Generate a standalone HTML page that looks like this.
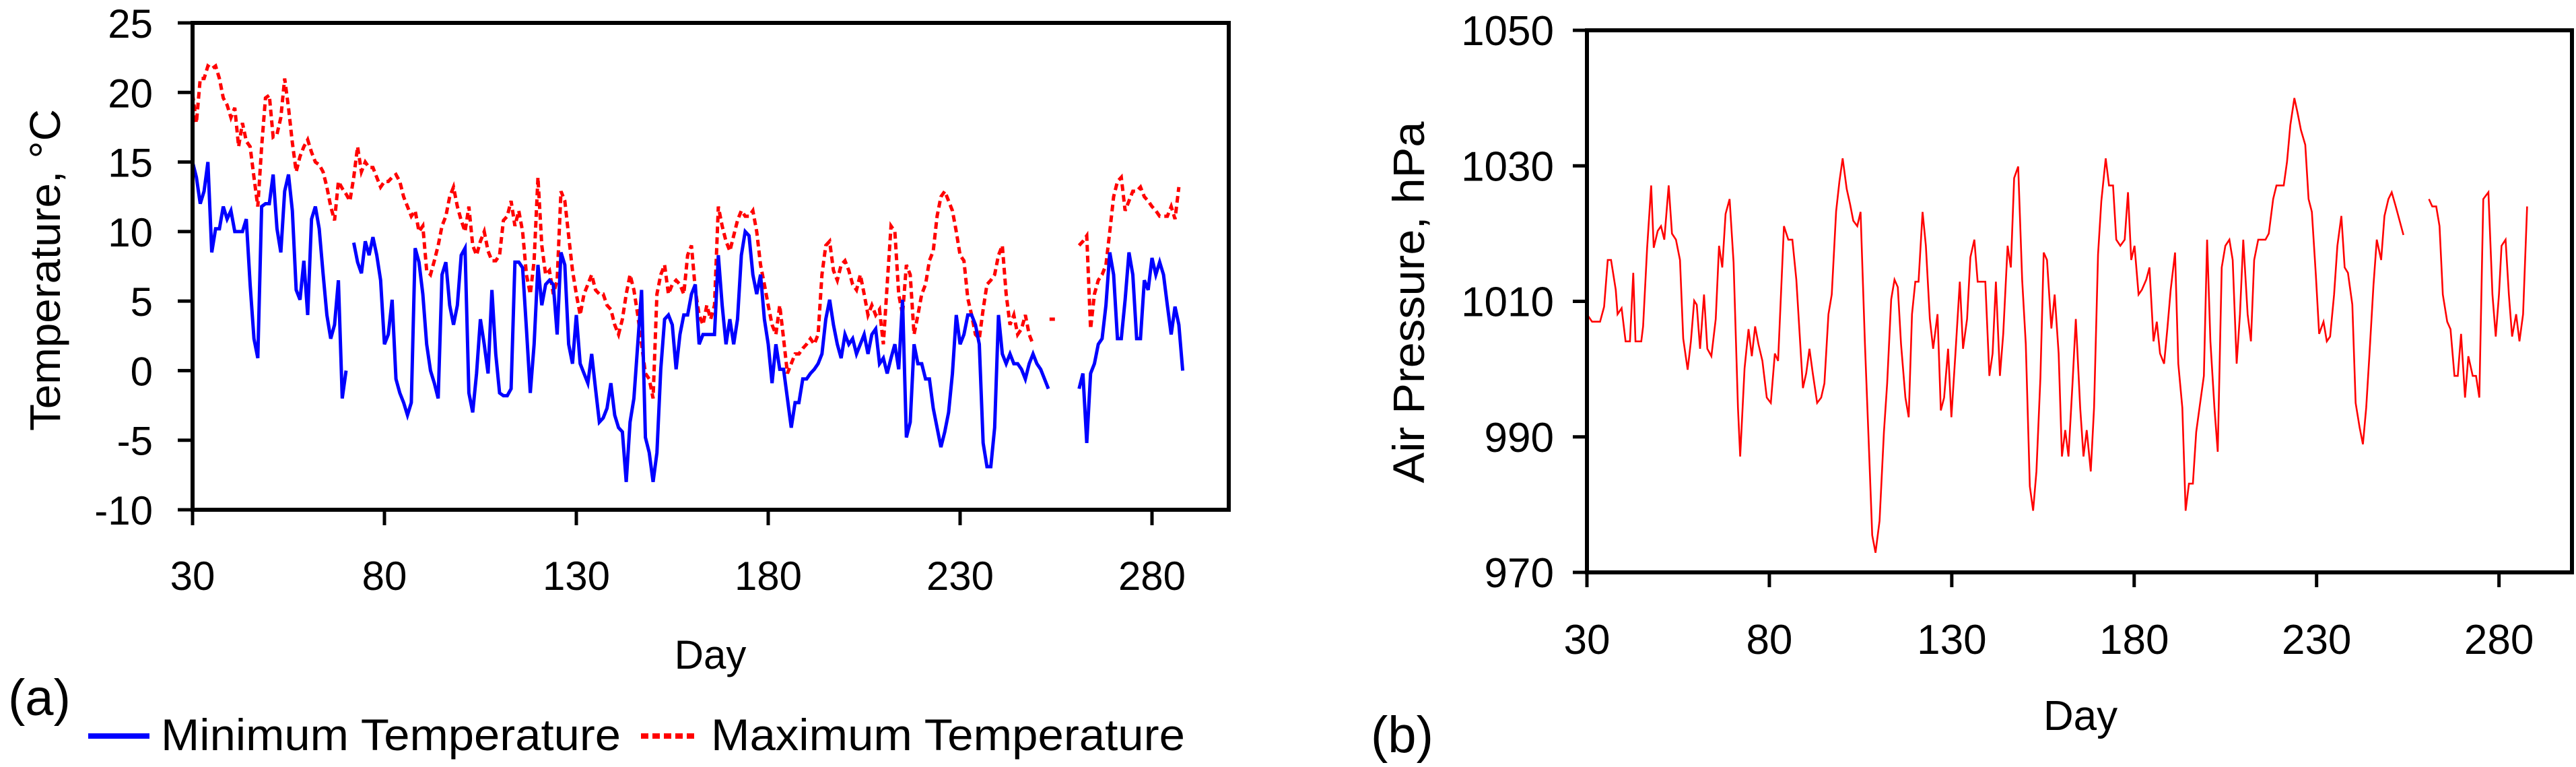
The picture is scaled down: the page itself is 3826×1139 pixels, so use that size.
<!DOCTYPE html>
<html><head><meta charset="utf-8">
<style>
html,body{margin:0;padding:0;background:#fff;}
svg{display:block;}
text{font-family:"Liberation Sans",Arial,sans-serif;fill:#000;}
</style></head>
<body>
<svg id="fig" width="3826" height="1139" viewBox="0 0 3826 1139" xmlns="http://www.w3.org/2000/svg">
<g id="chartA"></g>
<g id="chartB"></g>
</svg>
<script>
// ---------- Chart (a) data ----------
const tStartDay = 30;
const tXTicks = [30, 80, 130, 180, 230, 280];
const tYTicks = [25, 20, 15, 10, 5, 0, -5, -10];
const minTemp = [15,13.9,12,12.9,15,8.5,10.2,10.2,11.8,10.9,11.5,10,10,10,10.9,6.2,2.3,0.9,11.8,12,12,14.1,10.2,8.5,12.9,14.1,11.5,5.8,5.1,7.9,4,10.9,11.8,10.2,7,4,2.3,3.3,6.5,-2,0,
null,
9.2,7.8,7,9.3,8.3,9.6,8.3,6.5,1.9,2.6,5.1,-0.6,-1.6,-2.3,-3.2,-2.3,8.8,7.8,5.5,1.9,0,-0.9,-2,6.9,7.8,4.7,3.3,4.7,8.3,8.8,-1.6,-3,-0.2,3.7,1.9,-0.2,5.8,1.2,-1.6,-1.8,-1.8,-1.3,7.8,7.8,7.4,3,-1.6,1.9,7.6,4.7,6.2,6.5,6.2,2.6,8.5,7.6,1.9,0.5,4,0.5,-0.2,-0.9,1.2,-1.3,-3.7,-3.4,-2.7,-0.9,-3.2,-4.1,-4.4,-8,-3.7,-2,1.9,5.8,-4.8,-5.9,-8,-5.9,0.1,3.7,4,3.3,0.1,2.6,4,4,5.5,6.2,1.9,2.6,2.6,2.6,2.6,8.3,4.7,1.9,3.7,1.9,3.7,8.3,10,9.7,6.9,5.5,6.9,3.7,1.9,-0.9,1.9,0.1,0.1,-2,-4.1,-2.3,-2.3,-0.6,-0.6,-0.2,0.1,0.5,1.2,3.7,5.1,3.3,1.9,0.9,2.6,1.9,2.3,1.2,1.9,2.6,1.2,2.6,3,0.5,0.9,-0.2,0.9,1.9,0.1,5.1,-4.8,-3.7,1.9,0.5,0.5,-0.6,-0.6,-2.7,-4.1,-5.5,-4.4,-3,-0.2,4,1.9,2.6,4,4,3.3,1.9,-5.2,-6.9,-6.9,-4.1,4,1.2,0.5,1.2,0.5,0.5,0.1,-0.6,0.5,1.2,0.5,0.1,-0.6,-1.3,
null,null,null,null,null,null,null,
-1.3,-0.2,-5.2,-0.2,0.5,1.9,2.3,4.7,8.5,6.9,2.3,2.3,5.1,8.5,6.9,2.3,2.3,6.5,5.8,8.1,6.9,7.8,6.9,4.7,2.6,4.6,3.3,0];
const maxTemp = [19.9,17.8,21,21,21.9,21.7,21.9,21,19.6,19.1,18.2,18.9,16.1,17.8,16.5,16.1,13.9,11.8,16.1,19.6,19.8,16.8,17,18.2,21,18.9,16.4,14.3,15.4,16.1,16.6,15.7,15,14.8,14.3,13.2,11.8,10.8,13.6,13.1,12.7,12.2,13.9,16.1,14.3,15,14.6,14.6,13.9,13.2,13.6,13.6,13.9,14.1,13.6,12.5,11.8,11.1,11.5,10,10.4,7.2,6.9,7.9,9,10.4,11.1,12.5,13.2,11.8,10.8,10,11.8,9,8.3,9.3,10,8.6,7.9,7.9,8.3,10.8,11.1,12.2,10.4,11.5,10,6.9,5.5,7.9,13.9,9,6.9,7.2,5.5,6.5,12.9,12.2,9.7,7.2,5.5,4,5.5,6.2,6.9,5.8,5.5,5.5,4.7,4.4,3.3,2.6,3.7,5.5,6.9,5.8,4,1.9,-0.2,-0.6,-2,5.5,6.9,7.6,5.5,6.2,6.5,6.2,5.5,8.3,9,5.8,4,3.3,4.7,3.7,4.7,11.8,10.4,9.3,8.6,9.7,10.8,11.5,11.1,11.1,11.5,10,7.6,6.2,4.7,3.3,2.6,4.7,2.3,-0.2,0.5,1.2,1.2,1.6,1.9,2.3,1.9,2.6,6.9,9,9.3,7.2,6.5,7.6,7.9,7.2,6.2,5.8,6.9,5.5,4,4.7,4,4.4,1.9,6.2,10.4,10,5.5,4,7.6,6.9,2.6,4,5.5,6.2,7.9,8.6,11.1,12.5,12.9,12.2,11.5,10,8.3,7.9,5.2,4,2.6,2.3,4.4,6.2,6.5,6.9,8.3,9,5.5,3.3,4,2.6,3,4,2.6,1.9,
null,null,null,null,3.7,null,null,null,null,null,null,
9,9.3,9.7,3,5.5,6.5,6.9,7.6,10,12.5,13.6,13.9,11.5,12.2,12.9,12.9,13.2,12.5,12.2,11.8,11.5,11.1,11.1,11.1,11.8,10.9,13.2];

// ---------- Chart (b) data ----------
const pXTicks = [30, 80, 130, 180, 230, 280];
const pYTicks = [1050, 1030, 1010, 990, 970];
const pDays = [30,31.4,33.6,34.7,35.7,36.6,37.9,38.4,39.5,40.6,41.8,42.7,43.3,44.9,45.4,46.5,47.6,48.3,49.4,50.3,51.2,52.4,53.3,54.4,55.5,56.4,57.6,58.5,59.4,60.1,61,62.1,63,64.1,65.3,66.2,67.1,68,69.1,70.2,71.4,72,73.2,74.3,75.2,76.1,77,78.1,79.3,80.4,81.5,82.4,84,85.2,86.3,87.4,88.3,89.2,90.1,91,91.9,93.1,94.2,95.1,96.2,97.1,98.3,99.2,100.1,101.2,102.1,103,104.1,105,106.2,107.5,108.2,109.1,110.2,111.4,112.3,113.4,114.3,115.2,116.1,117.3,118.2,119.1,120,120.9,122,122.9,124,124.9,126.1,127,127.9,129,129.9,131,132.2,133.1,134.2,135.1,136.2,137.1,139.2,140.3,141.2,142.1,143.2,144.1,145.3,146.2,147.1,148.2,149.3,150.3,151.4,152.3,153.2,154.3,155.2,156.1,157.3,158.2,159.3,160.2,161.1,162,163.1,164,165.2,166.1,167,168.1,169,170.1,171,172.2,173.1,174.2,175.1,176.2,177.4,178.3,179.2,180.1,181.2,182.1,183.3,184.2,185.3,186.2,187.1,188.2,189.1,190,191.2,192.1,193.2,194.1,195,196.1,197,197.9,199.1,200,200.9,202,202.9,204,205,206.1,207,208.1,209,209.9,211.1,212,212.9,214,216,216.9,218.1,219,221,221.9,222.8,223.9,224.8,225.7,226.9,227.8,228.7,229.8,230.7,231.9,232.8,233.7,234.8,235.7,236.8,237.7,238.6,239.8,240.7,241.8,242.7,243.6,244.5,245.6,246.5,247.7,248.6,249.7,250.6,251.7,252.6,253.8,
null,
260.8,261.7,262.8,263.7,264.6,265.8,266.7,267.8,268.7,269.6,270.7,271.6,272.8,273.7,274.6,275.7,277.1,278.2,279.1,280,280.7,281.8,282.7,283.6,284.7,285.6,286.6,287.7];
const pVals = [1008.1,1007,1007,1009.2,1016.1,1016.1,1011.7,1008.1,1009,1004.1,1004.1,1014.2,1004.1,1004.1,1006.3,1017.9,1027.1,1017.9,1020.4,1021.1,1019.1,1027.1,1020,1019.1,1016.1,1004.5,999.9,1004.1,1010.1,1009.5,1003,1011,1003,1001.9,1007.4,1018.2,1015,1022.9,1025.1,1015.7,994.3,987.1,1000.1,1005.9,1001.9,1006.3,1003.7,1001.2,995.8,995,1002.3,1001.2,1021.1,1019.1,1019.1,1013.2,1005.2,997.2,999.4,1003,999.4,995,995.8,997.9,1008.1,1011,1023.3,1027.7,1031.1,1026.6,1024.4,1021.9,1021.1,1023.2,1003.7,985.6,975.5,972.9,977.6,990.7,997.9,1010.3,1013.2,1012.1,1003.7,995.8,992.9,1008.1,1012.9,1012.9,1023.2,1018.2,1007.4,1003,1008.1,993.9,995.8,1003,992.9,1002.3,1012.9,1003,1007.4,1016.5,1019.1,1012.9,1012.9,999,1002.3,1012.9,999,1005.2,1018.2,1015,1028.2,1029.9,1013.2,1003.7,982.7,979.1,984.9,998.7,1017.2,1016.1,1006,1011,1002.3,987.1,991,987.1,997.9,1007.4,994.3,987.1,991,984.9,994.3,1016.9,1024.8,1031.1,1027.1,1027.1,1019.1,1018.2,1019.1,1026.1,1016.1,1018.2,1011,1011.7,1013.2,1015,1004.1,1007,1002.3,1000.8,1006,1011.7,1017.2,1000.8,994.3,979.1,983.1,983.1,990.7,994.3,999,1019.1,1004.1,994.3,987.8,1015,1018.2,1019.1,1016.1,1000.8,1008.1,1019.1,1008.1,1004.1,1016.1,1019.1,1019.1,1020,1025.1,1027.1,1027.1,1030.6,1036,1040,1037.8,1035.3,1033.1,1025.1,1023.2,1013.9,1005.2,1007,1004.1,1004.8,1011,1018.2,1022.6,1015,1014.2,1009.5,995,991.4,988.9,994.3,1002.3,1012.4,1019.1,1016.1,1022.6,1025.1,1026.1,1024,1022.2,1019.8,
null,
1025.1,1024,1024,1021.1,1011,1007,1005.9,999,999,1005.2,995.8,1001.9,999,999,995.8,1025.1,1026.1,1011,1004.8,1011,1018.2,1019.1,1011,1004.8,1008.1,1004.1,1008.1,1024];

const NS = "http://www.w3.org/2000/svg";
function mk(parent, tag, attrs) {
  const e = document.createElementNS(NS, tag);
  for (const k in attrs) e.setAttribute(k, attrs[k]);
  parent.appendChild(e);
  return e;
}

// ===== Chart A =====
(function(){
  const g = document.getElementById('chartA');
  const L = 286, R = 1825, T = 34, B = 757;
  const x = d => L + (d - 30) / (300 - 30) * (R - L);
  const y = v => T + (25 - v) / 35 * (B - T);
  function series(vals, color, dash, name) {
    let segs = [], cur = [];
    vals.forEach((v, i) => {
      if (v === null) { if (cur.length) segs.push(cur); cur = []; }
      else cur.push([x(tStartDay + i), y(v)]);
    });
    if (cur.length) segs.push(cur);
    segs.forEach(s => {
      let pts;
      if (s.length === 1) pts = (s[0][0]-4)+','+s[0][1]+' '+(s[0][0]+4)+','+s[0][1];
      else pts = s.map(p => p[0].toFixed(1)+','+p[1].toFixed(1)).join(' ');
      const pl = mk(g, 'polyline', {points: pts, fill: 'none', stroke: color, 'stroke-width': 5, 'stroke-linejoin': 'miter'});
      if (dash) pl.setAttribute('stroke-dasharray', dash);
      
      
    });
  }
  series(maxTemp, '#ff0000', '10,6', 'max-temperature-line');
  series(minTemp, '#0000ff', null, 'min-temperature-line');
  const frame = mk(g, 'rect', {x: L, y: T, width: R - L, height: B - T, fill: 'none', stroke: '#000', 'stroke-width': 6});
  
  
  tYTicks.forEach(v => {
    const tk = mk(g, 'line', {x1: 264, x2: L, y1: y(v), y2: y(v), stroke: '#000', 'stroke-width': 5});
    
    
    const t = mk(g, 'text', {x: 227, y: y(v) + 22, 'text-anchor': 'end', 'font-size': 60});
    t.textContent = v;
    
    
  });
  tXTicks.forEach(d => {
    const tk = mk(g, 'line', {x1: x(d), x2: x(d), y1: B, y2: 780, stroke: '#000', 'stroke-width': 5});
    
    
    const t = mk(g, 'text', {x: x(d), y: 876, 'text-anchor': 'middle', 'font-size': 60});
    t.textContent = d;
    
    
  });
})();

// ===== Chart B =====
(function(){
  const g = document.getElementById('chartB');
  const L = 2357, R = 3820, T = 45, B = 850;
  const x = d => L + (d - 30) / (300 - 30) * (R - L);
  const y = v => T + (1050 - v) / 80 * (B - T);
  let segs = [], cur = [];
  pDays.forEach((d, i) => {
    if (d === null || pVals[i] === null) { if (cur.length) segs.push(cur); cur = []; }
    else cur.push([x(d), y(pVals[i])]);
  });
  if (cur.length) segs.push(cur);
  segs.forEach(s => {
    const pl = mk(g, 'polyline', {points: s.map(p => p[0].toFixed(1)+','+p[1].toFixed(1)).join(' '), fill: 'none', stroke: '#ff0000', 'stroke-width': 2.6});
    
    
  });
  const frame = mk(g, 'rect', {x: L, y: T, width: R - L, height: B - T, fill: 'none', stroke: '#000', 'stroke-width': 6});
  
  
  pYTicks.forEach(v => {
    const tk = mk(g, 'line', {x1: 2336, x2: L, y1: y(v), y2: y(v), stroke: '#000', 'stroke-width': 5});
    
    
    const t = mk(g, 'text', {x: 2308, y: y(v) + 22, 'text-anchor': 'end', 'font-size': 62});
    t.textContent = v;
    
    
  });
  pXTicks.forEach(d => {
    const tk = mk(g, 'line', {x1: x(d), x2: x(d), y1: B, y2: 872, stroke: '#000', 'stroke-width': 5});
    
    
    const t = mk(g, 'text', {x: x(d), y: 971, 'text-anchor': 'middle', 'font-size': 62});
    t.textContent = d;
    
    
  });
})();
</script>
<svg width="3826" height="1139" style="position:absolute;left:0;top:0;pointer-events:none" xmlns="http://www.w3.org/2000/svg">
  <text x="67" y="401" transform="rotate(-90 67 401)" dy="22" text-anchor="middle" font-size="64" textLength="478" lengthAdjust="spacingAndGlyphs">Temperature, °C</text>
  <text x="1055" y="993" text-anchor="middle" font-size="60">Day</text>
  <text x="12" y="1062" font-size="76">(a)</text>
  <line x1="131" y1="1093" x2="222" y2="1093" stroke="#0000ff" stroke-width="8"/>
  <text x="239" y="1114" font-size="66" textLength="683" lengthAdjust="spacingAndGlyphs">Minimum Temperature</text>
  <line x1="952" y1="1093" x2="1035" y2="1093" stroke="#ff0000" stroke-width="8" stroke-dasharray="11,6"/>
  <text x="1056" y="1114" font-size="66" textLength="704" lengthAdjust="spacingAndGlyphs">Maximum Temperature</text>
  <text x="2091" y="449" transform="rotate(-90 2091 449)" dy="24" text-anchor="middle" font-size="66" textLength="537" lengthAdjust="spacingAndGlyphs">Air Pressure, hPa</text>
  <text x="3090" y="1084" text-anchor="middle" font-size="62">Day</text>
  <text x="2036" y="1117" font-size="76">(b)</text>
</svg>
</body></html>
